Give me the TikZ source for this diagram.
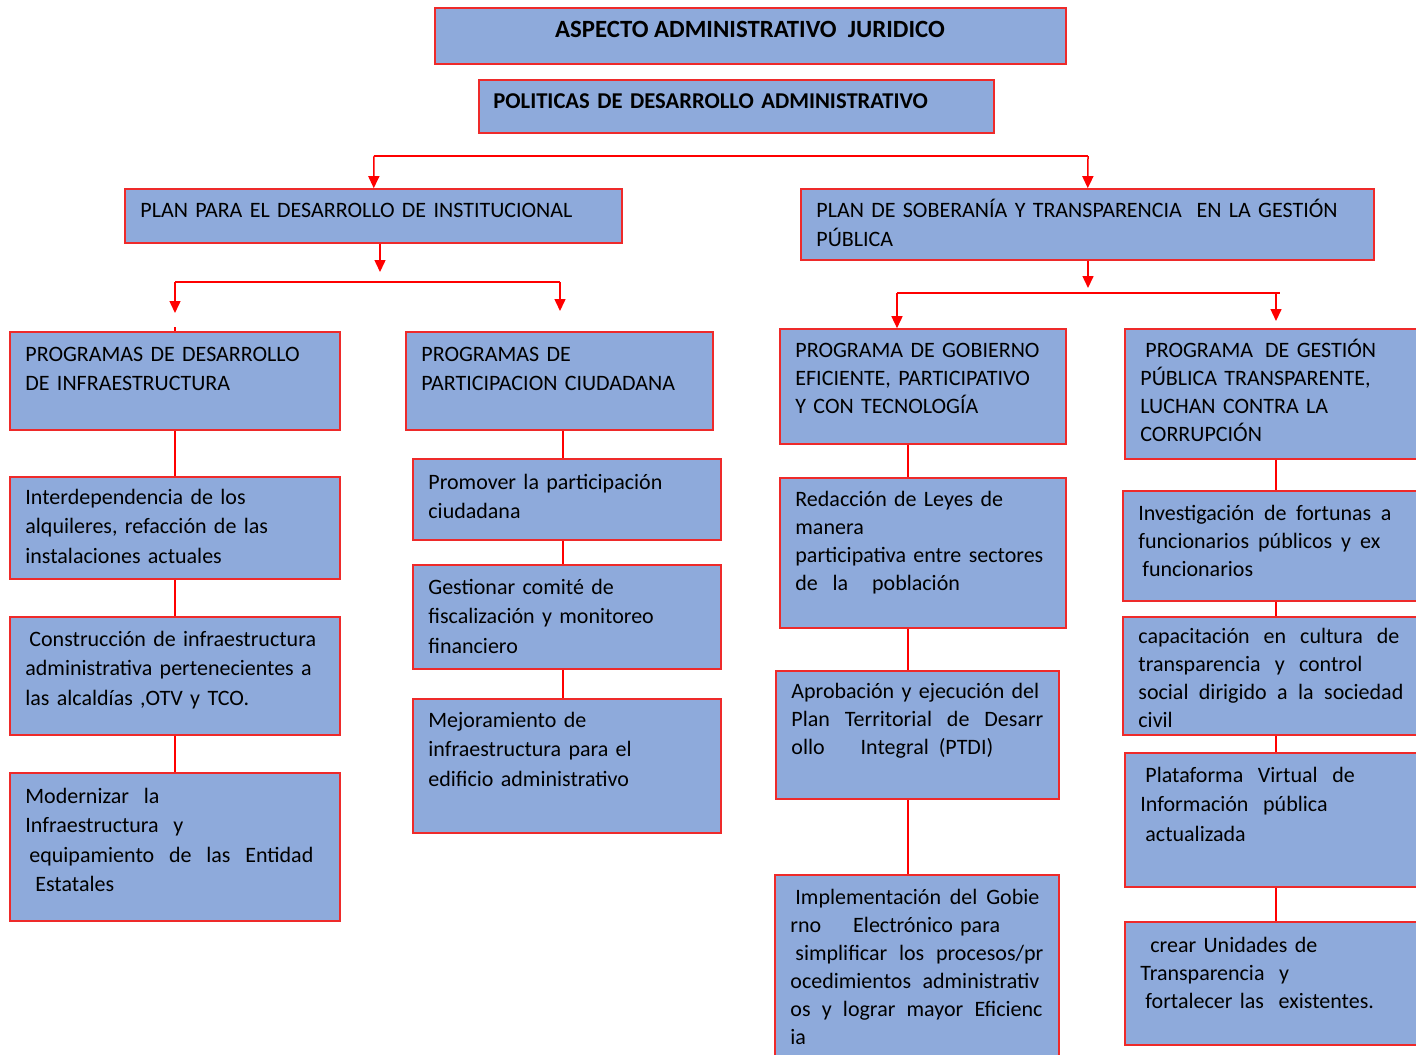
\documentclass[tikz,border=0pt]{standalone}
\usepackage{fontspec}
\setmainfont{Carlito}
\usetikzlibrary{arrows.meta,fit}
\definecolor{boxblue}{HTML}{8EAADB}
\definecolor{boxred}{HTML}{EE2A2A}
\tikzset{
  box/.style={draw=boxred, fill=boxblue, line width=0.8pt, inner sep=0pt},
  txt/.style={anchor=base west, inner sep=0pt, align=left, text width=200pt,
    font=\fontsize{11}{14.75}\selectfont},
  txtb/.style={txt, font=\fontsize{11}{14}\selectfont},
  link/.style={red, line width=0.75pt},
  arr/.style={link, -{Triangle[width=5.5pt,length=6pt]}},
}
\begin{document}
\begin{tikzpicture}[x=0.5pt, y=-0.5pt]
  \useasboundingbox (0,0) rectangle (1416,1054);
  \node[box, fit={(435,8) (1066,64)}] (title) {};
  \node[box, fit={(479,80) (994,133)}] (polit) {};
  \node[box, fit={(125,189) (622,243)}] (plan1) {};
  \node[box, fit={(801,189) (1374,260)}] (plan2) {};
  \node[box, fit={(10,332) (340,430)}] (pinfra) {};
  \node[box, fit={(406,332) (713,430)}] (ppart) {};
  \node[box, fit={(780,329) (1066,444)}] (pgob) {};
  \node[box, fit={(1125,329) (1427,459)}] (pgest) {};
  \node[box, fit={(10,477) (340,579)}] (interdep) {};
  \node[box, fit={(10,617) (340,735)}] (constr) {};
  \node[box, fit={(10,773) (340,921)}] (modern) {};
  \node[box, fit={(413,459) (721,540)}] (promover) {};
  \node[box, fit={(413,565) (721,669)}] (gestionar) {};
  \node[box, fit={(413,699) (721,833)}] (mejora) {};
  \node[box, fit={(780,478) (1066,628)}] (redac) {};
  \node[box, fit={(776,671) (1059,799)}] (aprob) {};
  \node[box, fit={(775,875) (1059,1070)}] (impl) {};
  \node[box, fit={(1123,491) (1427,601)}] (invest) {};
  \node[box, fit={(1123,617) (1427,735)}] (capac) {};
  \node[box, fit={(1125,753) (1427,887)}] (plataf) {};
  \node[box, fit={(1125,922) (1427,1045)}] (crear) {};

  % texts
  \node[anchor=base, inner sep=0pt, font=\fontsize{12.4}{14}\selectfont\bfseries] (title-t) at (750,38)
    {ASPECTO ADMINISTRATIVO\ \ JURIDICO};
  \node[txt, font=\fontsize{11.3}{14}\selectfont\bfseries, text width=260pt] (polit-t) at (493,109)
    {POLITICAS DE DESARROLLO ADMINISTRATIVO};
  \node[txt, text width=260pt] (plan1-t) at (140,217) {PLAN PARA EL DESARROLLO DE INSTITUCIONAL};
  \node[txt, text width=280pt] (plan2-t) at (816,217)
    {PLAN DE SOBERANÍA Y TRANSPARENCIA\ \ EN LA GESTIÓN\\PÚBLICA};
  \node[txt] (pinfra-t) at (25,361) {PROGRAMAS DE DESARROLLO\\DE INFRAESTRUCTURA};
  \node[txt] (ppart-t) at (421,361) {PROGRAMAS DE\\PARTICIPACION CIUDADANA};
  \node[txtb] (pgob-t) at (795,357) {PROGRAMA DE GOBIERNO\\EFICIENTE, PARTICIPATIVO\\Y CON TECNOLOGÍA};
  \node[txtb] (pgest-t) at (1140,357)
    {\hspace{2.5pt}PROGRAMA\hspace{6pt}DE GESTIÓN\\PÚBLICA TRANSPARENTE,\\LUCHAN CONTRA LA\\CORRUPCIÓN};
  \node[txt] (interdep-t) at (25,504)
    {Interdependencia de los\\alquileres, refacción de las\\instalaciones actuales};
  \node[txt] (constr-t) at (25,646)
    {\hspace{2pt}Construcción de infraestructura\\administrativa pertenecientes a\\las alcaldías ,OTV y TCO.};
  \node[txt] (modern-t) at (25,803)
    {Modernizar\ \ la\\Infraestructura\ \ y\\\hspace{2pt}\makebox[142pt][s]{equipamiento\hfill de\hfill las\hfill Entidad}\\\hspace{5pt}Estatales};
  \node[txt] (promover-t) at (428,489) {Promover la participación\\ciudadana};
  \node[txt] (gestionar-t) at (428,594) {Gestionar comité de\\fiscalización y monitoreo\\financiero};
  \node[txt] (mejora-t) at (428,727) {Mejoramiento de\\infraestructura para el\\edificio administrativo};
  \node[txtb] (redac-t) at (795,506)
    {Redacción de Leyes de\\manera\\participativa entre sectores\\de\ \ la\hspace{12pt}población};
  \node[txtb] (aprob-t) at (791,698)
    {Aprobación y ejecución del\\\makebox[126pt][s]{Plan\hfill Territorial\hfill de\hfill Desarr}\\ollo\hspace{18pt}Integral\hspace{5pt}(PTDI)};
  \node[txtb] (impl-t) at (790,904)
    {\hspace{2.5pt}\makebox[122pt][s]{Implementación\hfill del\hfill Gobie}\\rno\hspace{16pt}Electrónico para\\
     \hspace{2.5pt}\makebox[124pt][s]{simplificar\hfill los\hfill procesos/pr}\\\makebox[124.5pt][s]{ocedimientos\hfill administrativ}\\
     \makebox[126pt][s]{os\hfill y\hfill lograr\hfill mayor\hfill Eficienc}\\ia};
  \node[txtb] (invest-t) at (1138,520)
    {\makebox[126.5pt][s]{Investigación\hfill de\hfill fortunas\hfill a}\\\makebox[121pt][s]{funcionarios\hfill públicos\hfill y\hfill ex}\\\hspace{2pt}funcionarios};
  \node[txtb] (capac-t) at (1138,643)
    {\makebox[130.5pt][s]{capacitación\hfill en\hfill cultura\hfill de}\\\makebox[112pt][s]{transparencia\hfill y\hfill control}\\
     \makebox[132.5pt][s]{social\hfill dirigido\hfill a\hfill la\hfill sociedad}\\civil};
  \node[txt] (plataf-t) at (1140,782)
    {\hspace{2.5pt}Plataforma\ \ Virtual\ \ de\\Información\ \ pública\\\hspace{2.5pt}actualizada};
  \node[txtb] (crear-t) at (1140,952)
    {\hspace{5pt}crear\ Unidades de\\Transparencia\ \ y\\\hspace{2.5pt}fortalecer las\ \ existentes.};

  % arrows between levels
  \coordinate (s1l) at (374,156);
  \coordinate (s1r) at (1088,156);
  \draw[link] (s1l) -- (s1r);
  \draw[arr] (s1l) -- (plan1);
  \draw[arr] (s1r) -- (plan2);

  \coordinate (d1) at (380,272);
  \draw[arr] (plan1.south -| d1) -- (d1);
  \coordinate (s2l) at (175,282);
  \coordinate (s2r) at (560,282);
  \coordinate (a2l) at (175,313);
  \coordinate (a2r) at (560,311);
  \draw[link] (s2l) -- (s2r);
  \draw[arr] (s2l) -- (a2l);
  \draw[arr] (s2r) -- (a2r);
  \coordinate (t2) at (175,327);
  \draw[link] (t2) -- (pinfra.north);

  \coordinate (d2) at (1088,288);
  \draw[arr] (plan2.south -| d2) -- (d2);
  \coordinate (s3l) at (897,293);
  \coordinate (s3r) at (1280,293);
  \coordinate (a3r) at (1276,321);
  \draw[link] (s3l) -- (s3r);
  \draw[arr] (s3l) -- (s3l |- pgob.north);
  \draw[arr] (a3r |- s3r) -- (a3r);

  % columns
  \coordinate (col1) at (175,0);
  \coordinate (col2) at (563,0);
  \coordinate (col3) at (908,0);
  \coordinate (col4) at (1276,0);
  \draw[link] (col1 |- pinfra.south) -- (col1 |- interdep.north);
  \draw[link] (col1 |- interdep.south) -- (col1 |- constr.north);
  \draw[link] (col1 |- constr.south) -- (col1 |- modern.north);
  \draw[link] (col2 |- ppart.south) -- (col2 |- promover.north);
  \draw[link] (col2 |- promover.south) -- (col2 |- gestionar.north);
  \draw[link] (col2 |- gestionar.south) -- (col2 |- mejora.north);
  \draw[link] (col3 |- pgob.south) -- (col3 |- redac.north);
  \draw[link] (col3 |- redac.south) -- (col3 |- aprob.north);
  \draw[link] (col3 |- aprob.south) -- (col3 |- impl.north);
  \draw[link] (col4 |- pgest.south) -- (col4 |- invest.north);
  \draw[link] (col4 |- invest.south) -- (col4 |- capac.north);
  \draw[link] (col4 |- capac.south) -- (col4 |- plataf.north);
  \draw[link] (col4 |- plataf.south) -- (col4 |- crear.north);
\end{tikzpicture}
\end{document}
